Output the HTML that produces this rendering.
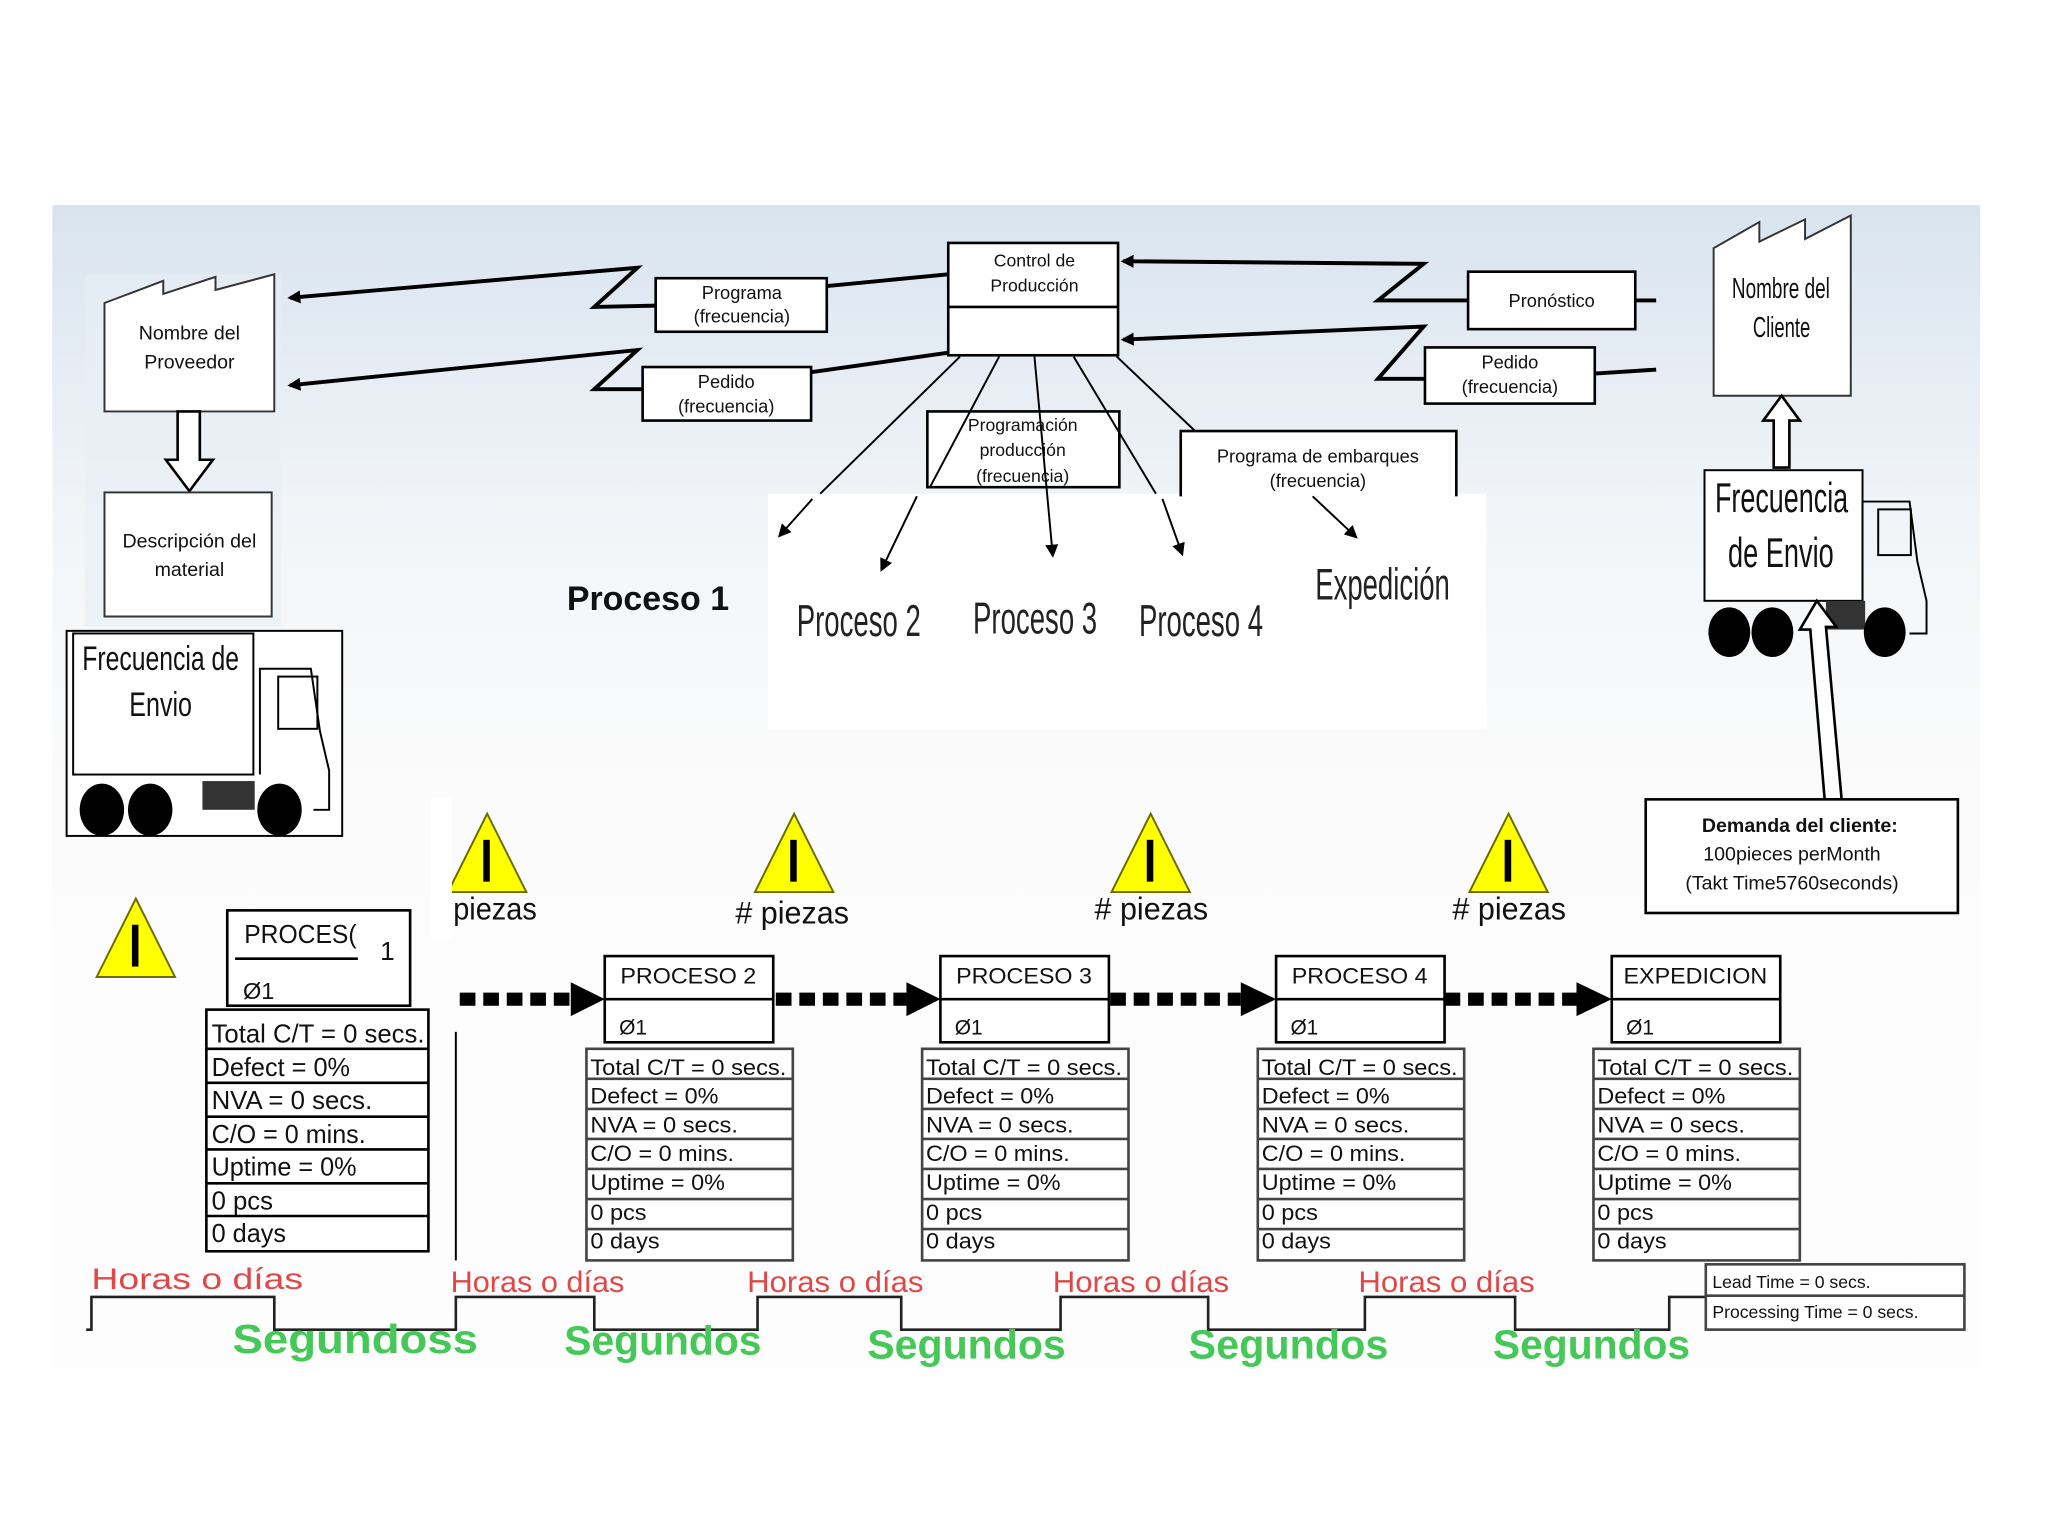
<!DOCTYPE html>
<html><head><meta charset="utf-8"><style>
html,body{margin:0;padding:0;background:#fff;}
svg{display:block}
text{font-family:"Liberation Sans",sans-serif}
</style></head><body>
<svg width="2048" height="1536" viewBox="0 0 1568 1176" xmlns="http://www.w3.org/2000/svg" fill="#111">
<defs>
<linearGradient id="bg" x1="0" y1="0" x2="0" y2="1">
<stop offset="0" stop-color="#d9e4ef"/><stop offset="0.28" stop-color="#f2f5f8"/><stop offset="0.5" stop-color="#fbfbfb"/><stop offset="1" stop-color="#fdfdfd"/>
</linearGradient>
<marker id="ah" markerWidth="10" markerHeight="10" refX="8" refY="5" orient="auto" markerUnits="userSpaceOnUse"><path d="M0,0 L10,5 L0,10 z" fill="#000"/></marker>
<g id="warn"><polygon points="30,0 60,60 0,60" fill="#ffff00" stroke="#6b6b00" stroke-width="1.5"/><rect x="27" y="20" width="5" height="32" fill="#000"/></g>
<g id="tbl">
<rect x="449" y="803" width="158" height="162" fill="#fff" stroke="#444" stroke-width="2"/>
<g stroke="#444" stroke-width="2"><line x1="449" y1="826" x2="607" y2="826"/><line x1="449" y1="849" x2="607" y2="849"/><line x1="449" y1="872" x2="607" y2="872"/><line x1="449" y1="895" x2="607" y2="895"/><line x1="449" y1="918" x2="607" y2="918"/><line x1="449" y1="941" x2="607" y2="941"/></g>
<text x="452" y="823" font-size="17" textLength="150" lengthAdjust="spacingAndGlyphs">Total C/T = 0 secs.</text>
<text x="452" y="845" font-size="17" textLength="98" lengthAdjust="spacingAndGlyphs">Defect = 0%</text>
<text x="452" y="867" font-size="17" textLength="113" lengthAdjust="spacingAndGlyphs">NVA = 0 secs.</text>
<text x="452" y="889" font-size="17" textLength="110" lengthAdjust="spacingAndGlyphs">C/O = 0 mins.</text>
<text x="452" y="911" font-size="17" textLength="103" lengthAdjust="spacingAndGlyphs">Uptime = 0%</text>
<text x="452" y="934" font-size="17" textLength="43" lengthAdjust="spacingAndGlyphs">0 pcs</text>
<text x="452" y="956" font-size="17" textLength="53" lengthAdjust="spacingAndGlyphs">0 days</text>
<rect x="463" y="732" width="129" height="66" fill="#fff" stroke="#000" stroke-width="2"/>
<line x1="463" y1="765" x2="592" y2="765" stroke="#000" stroke-width="2"/>
<text x="474" y="792" font-size="16">Ø1</text>
</g>
</defs>
<rect x="40" y="157" width="1476" height="890" fill="url(#bg)"/>
<rect x="65" y="210" width="150" height="270" fill="#e8eef5" opacity="0.6"/>
<rect x="588" y="378" width="550" height="180" fill="#fff"/>

<!-- supplier -->
<polygon points="80,315 80,232 125,215 125,225 165,212 165,222 210,210 210,315" fill="#fff" stroke="#333" stroke-width="1.5"/>
<text x="145" y="260" font-size="15" text-anchor="middle">Nombre del</text>
<text x="145" y="282" font-size="15" text-anchor="middle">Proveedor</text>
<polygon points="136,315 153,315 153,352 163,352 145,376 127,352 136,352" fill="#fff" stroke="#000" stroke-width="2"/>
<rect x="80" y="377" width="128" height="95" fill="#fff" stroke="#333" stroke-width="1.5"/>
<text x="145" y="419" font-size="15" text-anchor="middle">Descripción del</text>
<text x="145" y="441" font-size="15" text-anchor="middle">material</text>

<!-- left truck -->
<rect x="51" y="483" width="211" height="157" fill="#fff" stroke="#000" stroke-width="1.5"/>
<rect x="56" y="485" width="138" height="108" fill="#fff" stroke="#000" stroke-width="1.5"/>
<text x="63" y="513" font-size="26" textLength="120" lengthAdjust="spacingAndGlyphs">Frecuencia de</text>
<text x="99" y="548" font-size="26" textLength="48" lengthAdjust="spacingAndGlyphs">Envio</text>
<path d="M199,593 V512 H238 L245,560 L252,590 V620 H240" fill="none" stroke="#000" stroke-width="1.5"/>
<rect x="213" y="518" width="30" height="40" fill="none" stroke="#000" stroke-width="1.5"/>
<rect x="155" y="598" width="40" height="22" fill="#333"/>
<ellipse cx="78" cy="620" rx="17" ry="20" fill="#000"/><ellipse cx="115" cy="620" rx="17" ry="20" fill="#000"/><ellipse cx="214" cy="620" rx="17" ry="20" fill="#000"/>

<!-- control -->
<rect x="726" y="186" width="130" height="86" fill="#fff" stroke="#000" stroke-width="2"/>
<line x1="726" y1="235" x2="856" y2="235" stroke="#000" stroke-width="2"/>
<text x="792" y="204" font-size="13.5" text-anchor="middle">Control de</text>
<text x="792" y="223" font-size="13.5" text-anchor="middle">Producción</text>

<g stroke="#000" stroke-width="3" fill="none">
<line x1="726" y1="210" x2="633" y2="219"/>
<polyline points="502,234 455,235 488,205 222,228" marker-end="url(#ah)"/>
<line x1="726" y1="270" x2="621" y2="285"/>
<polyline points="492,298 455,298 488,268 222,295" marker-end="url(#ah)"/>
<polyline points="1124,230 1055,230 1090,202 860,200" marker-end="url(#ah)"/>
<line x1="1268" y1="230" x2="1252" y2="230"/>
<polyline points="1091,290 1055,290 1090,250 860,260" marker-end="url(#ah)"/>
<line x1="1268" y1="283" x2="1221" y2="286"/>
</g>
<rect x="502" y="213" width="131" height="41" fill="#fff" stroke="#000" stroke-width="2"/>
<text x="568" y="229" font-size="14" text-anchor="middle">Programa</text>
<text x="568" y="247" font-size="14" text-anchor="middle">(frecuencia)</text>
<rect x="492" y="281" width="129" height="41" fill="#fff" stroke="#000" stroke-width="2"/>
<text x="556" y="297" font-size="14" text-anchor="middle">Pedido</text>
<text x="556" y="316" font-size="14" text-anchor="middle">(frecuencia)</text>
<rect x="1124" y="208" width="128" height="44" fill="#fff" stroke="#000" stroke-width="2"/>
<text x="1188" y="235" font-size="14" text-anchor="middle">Pronóstico</text>
<rect x="1091" y="266" width="130" height="43" fill="#fff" stroke="#000" stroke-width="2"/>
<text x="1156" y="282" font-size="14" text-anchor="middle">Pedido</text>
<text x="1156" y="301" font-size="14" text-anchor="middle">(frecuencia)</text>

<rect x="710" y="315" width="147" height="58" fill="#fff" stroke="#000" stroke-width="2"/>
<text x="783" y="330" font-size="13.5" text-anchor="middle">Programación</text>
<text x="783" y="349" font-size="13.5" text-anchor="middle">producción</text>
<text x="783" y="369" font-size="13.5" text-anchor="middle">(frecuencia)</text>
<path d="M904,380 V330 H1115 V380" fill="#fff" stroke="#000" stroke-width="2"/>
<text x="1009" y="354" font-size="14" text-anchor="middle">Programa de embarques</text>
<text x="1009" y="373" font-size="14" text-anchor="middle">(frecuencia)</text>

<g stroke="#000" stroke-width="1.5" fill="none">
<line x1="735" y1="273" x2="628" y2="378"/><line x1="622" y1="382" x2="597" y2="410" marker-end="url(#ah)"/>
<line x1="765" y1="273" x2="712" y2="373"/><line x1="702" y1="380" x2="675" y2="436" marker-end="url(#ah)"/>
<line x1="792" y1="273" x2="806" y2="425" marker-end="url(#ah)"/>
<line x1="822" y1="273" x2="885" y2="378"/><line x1="890" y1="382" x2="905" y2="424" marker-end="url(#ah)"/>
<line x1="855" y1="273" x2="915" y2="330"/>
<line x1="1005" y1="380" x2="1038" y2="411" marker-end="url(#ah)"/>
</g>
<text x="434" y="467" font-size="26" font-weight="bold">Proceso 1</text>
<text x="610" y="487" font-size="34" fill="#222" textLength="95" lengthAdjust="spacingAndGlyphs">Proceso 2</text>
<text x="745" y="485" font-size="34" fill="#222" textLength="95" lengthAdjust="spacingAndGlyphs">Proceso 3</text>
<text x="872" y="487" font-size="34" fill="#222" textLength="95" lengthAdjust="spacingAndGlyphs">Proceso 4</text>
<text x="1007" y="459" font-size="34" fill="#222" textLength="103" lengthAdjust="spacingAndGlyphs">Expedición</text>

<!-- customer -->
<polygon points="1312,303 1312,190 1347,170 1347,185 1382,168 1382,183 1417,165 1417,303" fill="#fff" stroke="#333" stroke-width="1.5"/>
<text x="1326" y="228" font-size="22" textLength="75" lengthAdjust="spacingAndGlyphs">Nombre del</text>
<text x="1342" y="258" font-size="22" textLength="44" lengthAdjust="spacingAndGlyphs">Cliente</text>
<polygon points="1358,358 1370,358 1370,322 1378,322 1364,303 1350,322 1358,322" fill="#fff" stroke="#000" stroke-width="2"/>
<rect x="1305" y="360" width="121" height="100" fill="#fff" stroke="#000" stroke-width="1.5"/>
<text x="1313" y="392" font-size="32" textLength="102" lengthAdjust="spacingAndGlyphs">Frecuencia</text>
<text x="1323" y="434" font-size="32" textLength="81" lengthAdjust="spacingAndGlyphs">de Envio</text>
<path d="M1426,460 V384 H1462 L1468,430 L1475,460 V485 H1462" fill="none" stroke="#000" stroke-width="1.5"/>
<rect x="1438" y="390" width="25" height="35" fill="none" stroke="#000" stroke-width="1.5"/>
<rect x="1398" y="460" width="30" height="22" fill="#333"/>
<ellipse cx="1324" cy="484" rx="16" ry="19" fill="#000"/><ellipse cx="1357" cy="484" rx="16" ry="19" fill="#000"/><ellipse cx="1443" cy="484" rx="16" ry="19" fill="#000"/>
<polygon points="1397,612 1410,612 1398,480 1406,480 1391,460 1378,482 1386,482" fill="#fff" stroke="#000" stroke-width="2"/>
<rect x="1260" y="612" width="239" height="87" fill="#fff" stroke="#000" stroke-width="2"/>
<text x="1378" y="637" font-size="15" font-weight="bold" text-anchor="middle">Demanda del cliente:</text>
<text x="1372" y="659" font-size="15" text-anchor="middle">100pieces perMonth</text>
<text x="1372" y="681" font-size="15" text-anchor="middle">(Takt Time5760seconds)</text>

<!-- warnings -->
<use href="#warn" x="74" y="688"/>
<use href="#warn" x="343" y="623"/>
<use href="#warn" x="578" y="623"/>
<use href="#warn" x="851" y="623"/>
<use href="#warn" x="1125" y="623"/>
<rect x="330" y="610" width="16" height="110" fill="#fff"/>
<text x="347" y="704" font-size="24" textLength="64" lengthAdjust="spacingAndGlyphs">piezas</text>
<text x="563" y="707" font-size="24" textLength="87" lengthAdjust="spacingAndGlyphs"># piezas</text>
<text x="838" y="704" font-size="24" textLength="87" lengthAdjust="spacingAndGlyphs"># piezas</text>
<text x="1112" y="704" font-size="24" textLength="87" lengthAdjust="spacingAndGlyphs"># piezas</text>

<!-- process 1 -->
<rect x="174" y="697" width="140" height="73" fill="#fff" stroke="#000" stroke-width="2"/>
<line x1="180" y1="734" x2="274" y2="734" stroke="#000" stroke-width="2"/>
<text x="187" y="722" font-size="20" textLength="86" lengthAdjust="spacingAndGlyphs">PROCES(</text>
<text x="291" y="735" font-size="20">1</text>
<text x="186" y="765" font-size="18">Ø1</text>
<g stroke="#000" stroke-width="2" fill="#fff">
<rect x="158" y="773" width="170" height="185"/>
<line x1="158" y1="803" x2="328" y2="803"/><line x1="158" y1="829" x2="328" y2="829"/><line x1="158" y1="855" x2="328" y2="855"/><line x1="158" y1="880" x2="328" y2="880"/><line x1="158" y1="906" x2="328" y2="906"/><line x1="158" y1="931" x2="328" y2="931"/>
</g>
<text x="162" y="798" font-size="20" textLength="163" lengthAdjust="spacingAndGlyphs">Total C/T = 0 secs.</text>
<text x="162" y="824" font-size="20" textLength="106" lengthAdjust="spacingAndGlyphs">Defect = 0%</text>
<text x="162" y="849" font-size="20" textLength="123" lengthAdjust="spacingAndGlyphs">NVA = 0 secs.</text>
<text x="162" y="875" font-size="20" textLength="118" lengthAdjust="spacingAndGlyphs">C/O = 0 mins.</text>
<text x="162" y="900" font-size="20" textLength="111" lengthAdjust="spacingAndGlyphs">Uptime = 0%</text>
<text x="162" y="926" font-size="20" textLength="47" lengthAdjust="spacingAndGlyphs">0 pcs</text>
<text x="162" y="951" font-size="20" textLength="57" lengthAdjust="spacingAndGlyphs">0 days</text>
<line x1="349" y1="790" x2="349" y2="965" stroke="#000" stroke-width="1.5"/>

<!-- processes 2-5 -->
<use href="#tbl"/>
<use href="#tbl" x="257"/>
<use href="#tbl" x="514"/>
<use href="#tbl" x="771"/>
<text x="475" y="753" font-size="17" textLength="104" lengthAdjust="spacingAndGlyphs">PROCESO 2</text>
<text x="732" y="753" font-size="17" textLength="104" lengthAdjust="spacingAndGlyphs">PROCESO 3</text>
<text x="989" y="753" font-size="17" textLength="104" lengthAdjust="spacingAndGlyphs">PROCESO 4</text>
<text x="1243" y="753" font-size="17" textLength="110" lengthAdjust="spacingAndGlyphs">EXPEDICION</text>

<!-- push arrows -->
<g stroke="#000" stroke-width="10" stroke-dasharray="12,6">
<line x1="352" y1="765" x2="437" y2="765"/><line x1="594" y1="765" x2="694" y2="765"/><line x1="850" y1="765" x2="950" y2="765"/><line x1="1106" y1="765" x2="1207" y2="765"/>
</g>
<g fill="#000">
<polygon points="437,752 463,765 437,778"/><polygon points="694,752 720,765 694,778"/><polygon points="950,752 977,765 950,778"/><polygon points="1207,752 1234,765 1207,778"/>
</g>

<!-- timeline -->
<polyline points="66,1018 70,1018 70,993 210,993 210,1018 349,1018 349,993 455,993 455,1018 580,1018 580,993 690,993 690,1018 812,1018 812,993 925,993 925,1018 1045,1018 1045,993 1160,993 1160,1018 1278,1018 1278,993 1306,993" fill="none" stroke="#222" stroke-width="2"/>
<g font-size="23" fill="#e04848">
<text x="70" y="987" textLength="162" lengthAdjust="spacingAndGlyphs">Horas o días</text>
<text x="345" y="989" textLength="133" lengthAdjust="spacingAndGlyphs">Horas o días</text>
<text x="572" y="989" textLength="135" lengthAdjust="spacingAndGlyphs">Horas o días</text>
<text x="806" y="989" textLength="135" lengthAdjust="spacingAndGlyphs">Horas o días</text>
<text x="1040" y="989" textLength="135" lengthAdjust="spacingAndGlyphs">Horas o días</text>
</g>
<g font-size="31" fill="#46c858" font-weight="bold">
<text x="178" y="1036" textLength="188" lengthAdjust="spacingAndGlyphs">Segundoss</text>
<text x="432" y="1037" textLength="151" lengthAdjust="spacingAndGlyphs">Segundos</text>
<text x="664" y="1040" textLength="152" lengthAdjust="spacingAndGlyphs">Segundos</text>
<text x="910" y="1040" textLength="153" lengthAdjust="spacingAndGlyphs">Segundos</text>
<text x="1143" y="1040" textLength="151" lengthAdjust="spacingAndGlyphs">Segundos</text>
</g>
<rect x="1306" y="968" width="198" height="50" fill="#fff" stroke="#444" stroke-width="2"/>
<line x1="1306" y1="992" x2="1504" y2="992" stroke="#444" stroke-width="2"/>
<text x="1311" y="986" font-size="13.5">Lead Time = 0 secs.</text>
<text x="1311" y="1009" font-size="13.5">Processing Time = 0 secs.</text>
</svg>
</body></html>
